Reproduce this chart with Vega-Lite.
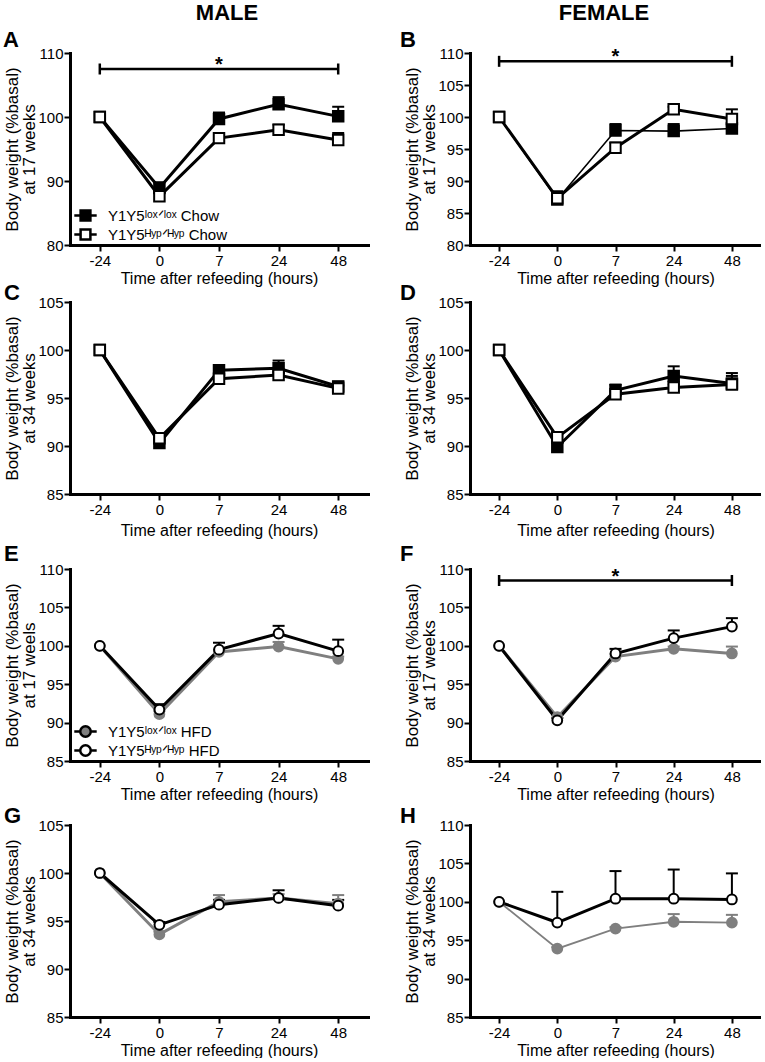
{
"$schema":"https://vega.github.io/schema/vega-lite/v6.json",
"padding":{"left":3,"top":2,"right":0,"bottom":0},
"config":{
 "font":"Liberation Sans",
 "view":{"stroke":null},
 "axis":{"domainColor":"black","domainWidth":3,"domainCap":"square","tickColor":"black","tickWidth":2,"tickSize":6,"labelColor":"black","labelFontSize":15,"labelPadding":2,"titleFontSize":16,"titleFontWeight":"normal","titleColor":"black","grid":false,"titlePadding":2,"titleLineHeight":17},
 "axisX":{"labelAngle":0},
 "axisY":{"labelPadding":1,"titlePadding":-1,"titleFontSize":17},
 "title":{"fontSize":22,"fontWeight":"bold","color":"black","anchor":"start","frame":"group"},
 "legend":{"labelColor":"black","labelFontSize":15}
},
"datasets":{
 "pts":[
  {"panel":"A","group":"lox","time":"-24","mean":100,"upper":null},
  {"panel":"A","group":"lox","time":"0","mean":88.9,"upper":89.8},
  {"panel":"A","group":"lox","time":"7","mean":99.7,"upper":100.7},
  {"panel":"A","group":"lox","time":"24","mean":102.0,"upper":103.1},
  {"panel":"A","group":"lox","time":"48","mean":100.1,"upper":101.6},
  {"panel":"A","group":"hyp","time":"-24","mean":100,"upper":null},
  {"panel":"A","group":"hyp","time":"0","mean":87.6,"upper":88.2},
  {"panel":"A","group":"hyp","time":"7","mean":96.7,"upper":97.1},
  {"panel":"A","group":"hyp","time":"24","mean":98.0,"upper":98.8},
  {"panel":"A","group":"hyp","time":"48","mean":96.4,"upper":97.5},
  {"panel":"B","group":"lox","time":"-24","mean":100,"upper":null},
  {"panel":"B","group":"lox","time":"0","mean":87.1,"upper":88.0},
  {"panel":"B","group":"lox","time":"7","mean":97.9,"upper":98.9},
  {"panel":"B","group":"lox","time":"24","mean":97.8,"upper":98.9},
  {"panel":"B","group":"lox","time":"48","mean":98.2,"upper":98.6},
  {"panel":"B","group":"hyp","time":"-24","mean":100,"upper":null},
  {"panel":"B","group":"hyp","time":"0","mean":87.3,"upper":88.4},
  {"panel":"B","group":"hyp","time":"7","mean":95.2,"upper":96.0},
  {"panel":"B","group":"hyp","time":"24","mean":101.2,"upper":101.6},
  {"panel":"B","group":"hyp","time":"48","mean":99.7,"upper":101.2},
  {"panel":"C","group":"lox","time":"-24","mean":100,"upper":null},
  {"panel":"C","group":"lox","time":"0","mean":90.3,"upper":90.6},
  {"panel":"C","group":"lox","time":"7","mean":97.9,"upper":98.4},
  {"panel":"C","group":"lox","time":"24","mean":98.1,"upper":98.9},
  {"panel":"C","group":"lox","time":"48","mean":96.2,"upper":96.7},
  {"panel":"C","group":"hyp","time":"-24","mean":100,"upper":null},
  {"panel":"C","group":"hyp","time":"0","mean":90.8,"upper":91.0},
  {"panel":"C","group":"hyp","time":"7","mean":97.0,"upper":97.4},
  {"panel":"C","group":"hyp","time":"24","mean":97.4,"upper":97.7},
  {"panel":"C","group":"hyp","time":"48","mean":96.0,"upper":96.3},
  {"panel":"D","group":"lox","time":"-24","mean":100,"upper":null},
  {"panel":"D","group":"lox","time":"0","mean":89.9,"upper":90.3},
  {"panel":"D","group":"lox","time":"7","mean":95.8,"upper":96.4},
  {"panel":"D","group":"lox","time":"24","mean":97.3,"upper":98.3},
  {"panel":"D","group":"lox","time":"48","mean":96.5,"upper":97.6},
  {"panel":"D","group":"hyp","time":"-24","mean":100,"upper":null},
  {"panel":"D","group":"hyp","time":"0","mean":90.9,"upper":91.4},
  {"panel":"D","group":"hyp","time":"7","mean":95.4,"upper":95.7},
  {"panel":"D","group":"hyp","time":"24","mean":96.1,"upper":96.4},
  {"panel":"D","group":"hyp","time":"48","mean":96.4,"upper":97.3},
  {"panel":"E","group":"lox","time":"-24","mean":100,"upper":null},
  {"panel":"E","group":"lox","time":"0","mean":91.1,"upper":91.5},
  {"panel":"E","group":"lox","time":"7","mean":99.2,"upper":99.5},
  {"panel":"E","group":"lox","time":"24","mean":99.9,"upper":100.5},
  {"panel":"E","group":"lox","time":"48","mean":98.3,"upper":98.6},
  {"panel":"E","group":"hyp","time":"-24","mean":100,"upper":null},
  {"panel":"E","group":"hyp","time":"0","mean":91.7,"upper":92.4},
  {"panel":"E","group":"hyp","time":"7","mean":99.5,"upper":100.4},
  {"panel":"E","group":"hyp","time":"24","mean":101.6,"upper":102.6},
  {"panel":"E","group":"hyp","time":"48","mean":99.3,"upper":100.8},
  {"panel":"F","group":"lox","time":"-24","mean":100,"upper":null},
  {"panel":"F","group":"lox","time":"0","mean":90.7,"upper":91.0},
  {"panel":"F","group":"lox","time":"7","mean":98.6,"upper":98.9},
  {"panel":"F","group":"lox","time":"24","mean":99.6,"upper":99.9},
  {"panel":"F","group":"lox","time":"48","mean":99.0,"upper":99.9},
  {"panel":"F","group":"hyp","time":"-24","mean":100,"upper":null},
  {"panel":"F","group":"hyp","time":"0","mean":90.3,"upper":90.6},
  {"panel":"F","group":"hyp","time":"7","mean":99.0,"upper":99.6},
  {"panel":"F","group":"hyp","time":"24","mean":101.0,"upper":102.0},
  {"panel":"F","group":"hyp","time":"48","mean":102.5,"upper":103.6},
  {"panel":"G","group":"lox","time":"-24","mean":100,"upper":null},
  {"panel":"G","group":"lox","time":"0","mean":93.6,"upper":93.9},
  {"panel":"G","group":"lox","time":"7","mean":97.0,"upper":97.7},
  {"panel":"G","group":"lox","time":"24","mean":97.4,"upper":97.8},
  {"panel":"G","group":"lox","time":"48","mean":96.8,"upper":97.7},
  {"panel":"G","group":"hyp","time":"-24","mean":100,"upper":null},
  {"panel":"G","group":"hyp","time":"0","mean":94.6,"upper":94.9},
  {"panel":"G","group":"hyp","time":"7","mean":96.7,"upper":97.2},
  {"panel":"G","group":"hyp","time":"24","mean":97.4,"upper":98.2},
  {"panel":"G","group":"hyp","time":"48","mean":96.6,"upper":97.2},
  {"panel":"H","group":"lox","time":"-24","mean":100,"upper":null},
  {"panel":"H","group":"lox","time":"0","mean":93.9,"upper":94.1},
  {"panel":"H","group":"lox","time":"7","mean":96.5,"upper":96.7},
  {"panel":"H","group":"lox","time":"24","mean":97.4,"upper":98.4},
  {"panel":"H","group":"lox","time":"48","mean":97.3,"upper":98.3},
  {"panel":"H","group":"hyp","time":"-24","mean":100,"upper":null},
  {"panel":"H","group":"hyp","time":"0","mean":97.3,"upper":101.3},
  {"panel":"H","group":"hyp","time":"7","mean":100.4,"upper":104.0},
  {"panel":"H","group":"hyp","time":"24","mean":100.4,"upper":104.2},
  {"panel":"H","group":"hyp","time":"48","mean":100.3,"upper":103.7}
 ],
 "sig":[
  {"panel":"A","from":"-24","to":"48","mid":"7","y":107.5,"star":"*"},
  {"panel":"B","from":"-24","to":"48","mid":"7","y":108.7,"star":"*"},
  {"panel":"F","from":"-24","to":"48","mid":"7","y":108.5,"star":"*"}
 ]
},
"resolve":{"scale":{"fill":"independent"},"legend":{"fill":"independent"}},
"spacing":5,
"vconcat":[
 {"hconcat":[
   {"width":314,"height":22,"data":{"values":[{"h":"MALE"}]},"mark":{"type":"text","fontSize":22,"fontWeight":"bold","color":"black"},"encoding":{"text":{"field":"h"}}},
   {"width":200,"height":22,"data":{"values":[{"h":"FEMALE"}]},"mark":{"type":"text","fontSize":22,"fontWeight":"bold","color":"black"},"encoding":{"text":{"field":"h"}}}
 ],"spacing":120},
 {"concat":[
  {"width":298,"height":192,"title":{"text":"A","dx":-67,"offset":-6},
   "data":{"name":"pts"},"transform":[{"filter":"datum.panel === 'A'"}],
   "encoding":{
    "x":{"field":"time","type":"ordinal","scale":{"type":"point","domain":["-24","0","7","24","48"],"padding":0.5},"axis":{"title":"Time after refeeding (hours)"}},
    "y":{"field":"mean","type":"quantitative","scale":{"domain":[80,110],"nice":false,"zero":false},"axis":{"values":[80,90,100,110],"title":["Body weight (%basal)","at 17 weeks"]}}
   },
   "layer":[
    {"transform":[{"filter":"datum.upper != null"}],"mark":{"type":"rule","strokeWidth":2,"color":"black"},"encoding":{"y2":{"field":"upper"}}},
    {"transform":[{"filter":"datum.upper != null"}],"mark":{"type":"tick","thickness":2,"size":12,"opacity":1,"color":"black"},"encoding":{"y":{"field":"upper","type":"quantitative"}}},
    {"mark":{"type":"line","strokeWidth":3,"color":"black"},"encoding":{"detail":{"field":"group"}}},
    {"mark":{"type":"point","shape":"square","filled":true,"size":110,"strokeWidth":2,"opacity":1,"stroke":"black"},"encoding":{
      "fill":{"field":"group","type":"nominal","scale":{"domain":["lox","hyp"],"range":["black","white"]},"legend":{"orient":"none","legendX":7,"legendY":154,"padding":0,"title":null,"symbolType":"M-1.6,0H-0.7M0.7,0H1.6M-0.7,-0.7H0.7V0.7H-0.7Z","symbolSize":196,"symbolStrokeWidth":2.5,"symbolStrokeColor":"black","labelOffset":14,"rowPadding":-4,"labelExpr":"datum.label === 'lox' ? 'Y1Y5ˡᵒˣᐟˡᵒˣ Chow' : 'Y1Y5ᴴʸᵖᐟᴴʸᵖ Chow'","encode":{"symbols":{"update":{"stroke":{"value":"black"},"strokeWidth":{"value":2.5}}}}}}}},
    {"data":{"name":"sig"},"transform":[{"filter":"datum.panel === 'A'"}],"mark":{"type":"rule","strokeWidth":2.5,"color":"black"},"encoding":{"x":{"field":"from","type":"ordinal"},"x2":{"field":"to"},"y":{"field":"y","type":"quantitative"}}},
    {"data":{"name":"sig"},"transform":[{"filter":"datum.panel === 'A'"}],"mark":{"type":"tick","orient":"vertical","size":11,"thickness":2.5,"color":"black","opacity":1},"encoding":{"x":{"field":"from","type":"ordinal"},"y":{"field":"y","type":"quantitative"}}},
    {"data":{"name":"sig"},"transform":[{"filter":"datum.panel === 'A'"}],"mark":{"type":"tick","orient":"vertical","size":11,"thickness":2.5,"color":"black","opacity":1},"encoding":{"x":{"field":"to","type":"ordinal"},"y":{"field":"y","type":"quantitative"}}},
    {"data":{"name":"sig"},"transform":[{"filter":"datum.panel === 'A'"}],"mark":{"type":"text","fontSize":20,"fontWeight":"bold","baseline":"alphabetic","dy":2,"color":"black"},"encoding":{"x":{"field":"mid","type":"ordinal"},"y":{"field":"y","type":"quantitative"},"text":{"field":"star"}}}
   ]},
  {"width":291,"height":192,"title":{"text":"B","dx":-70,"offset":-6},
   "data":{"name":"pts"},"transform":[{"filter":"datum.panel === 'B'"}],
   "encoding":{
    "x":{"field":"time","type":"ordinal","scale":{"type":"point","domain":["-24","0","7","24","48"],"padding":0.5},"axis":{"title":"Time after refeeding (hours)"}},
    "y":{"field":"mean","type":"quantitative","scale":{"domain":[80,110],"nice":false,"zero":false},"axis":{"values":[80,85,90,95,100,105,110],"title":["Body weight (%basal)","at 17 weeks"]}}
   },
   "layer":[
    {"transform":[{"filter":"datum.upper != null"}],"mark":{"type":"rule","strokeWidth":2,"color":"black"},"encoding":{"y2":{"field":"upper"}}},
    {"transform":[{"filter":"datum.upper != null"}],"mark":{"type":"tick","thickness":2,"size":12,"opacity":1,"color":"black"},"encoding":{"y":{"field":"upper","type":"quantitative"}}},
    {"mark":{"type":"line","color":"black"},"encoding":{"detail":{"field":"group"},"strokeWidth":{"condition":{"test":"datum.group === 'lox'","value":1.6},"value":3}}},
    {"mark":{"type":"point","shape":"square","filled":true,"size":110,"strokeWidth":2,"opacity":1,"stroke":"black"},"encoding":{
      "fill":{"field":"group","type":"nominal","scale":{"domain":["lox","hyp"],"range":["black","white"]},"legend":null}}},
    {"data":{"name":"sig"},"transform":[{"filter":"datum.panel === 'B'"}],"mark":{"type":"rule","strokeWidth":2.5,"color":"black"},"encoding":{"x":{"field":"from","type":"ordinal"},"x2":{"field":"to"},"y":{"field":"y","type":"quantitative"}}},
    {"data":{"name":"sig"},"transform":[{"filter":"datum.panel === 'B'"}],"mark":{"type":"tick","orient":"vertical","size":11,"thickness":2.5,"color":"black","opacity":1},"encoding":{"x":{"field":"from","type":"ordinal"},"y":{"field":"y","type":"quantitative"}}},
    {"data":{"name":"sig"},"transform":[{"filter":"datum.panel === 'B'"}],"mark":{"type":"tick","orient":"vertical","size":11,"thickness":2.5,"color":"black","opacity":1},"encoding":{"x":{"field":"to","type":"ordinal"},"y":{"field":"y","type":"quantitative"}}},
    {"data":{"name":"sig"},"transform":[{"filter":"datum.panel === 'B'"}],"mark":{"type":"text","fontSize":20,"fontWeight":"bold","baseline":"alphabetic","dy":2,"color":"black"},"encoding":{"x":{"field":"mid","type":"ordinal"},"y":{"field":"y","type":"quantitative"},"text":{"field":"star"}}}
   ]},
  {"width":298,"height":192,"title":{"text":"C","dx":-66,"offset":-10},
   "data":{"name":"pts"},"transform":[{"filter":"datum.panel === 'C'"}],
   "encoding":{
    "x":{"field":"time","type":"ordinal","scale":{"type":"point","domain":["-24","0","7","24","48"],"padding":0.5},"axis":{"title":"Time after refeeding (hours)","titlePadding":5}},
    "y":{"field":"mean","type":"quantitative","scale":{"domain":[85,105],"nice":false,"zero":false},"axis":{"values":[85,90,95,100,105],"title":["Body weight (%basal)","at 34 weeks"]}}
   },
   "layer":[
    {"transform":[{"filter":"datum.upper != null"}],"mark":{"type":"rule","strokeWidth":2,"color":"black"},"encoding":{"y2":{"field":"upper"}}},
    {"transform":[{"filter":"datum.upper != null"}],"mark":{"type":"tick","thickness":2,"size":12,"opacity":1,"color":"black"},"encoding":{"y":{"field":"upper","type":"quantitative"}}},
    {"mark":{"type":"line","strokeWidth":3,"color":"black"},"encoding":{"detail":{"field":"group"}}},
    {"mark":{"type":"point","shape":"square","filled":true,"size":110,"strokeWidth":2,"opacity":1,"stroke":"black"},"encoding":{
      "fill":{"field":"group","type":"nominal","scale":{"domain":["lox","hyp"],"range":["black","white"]},"legend":null}}}
   ]},
  {"width":291,"height":192,"title":{"text":"D","dx":-70,"offset":-10},
   "data":{"name":"pts"},"transform":[{"filter":"datum.panel === 'D'"}],
   "encoding":{
    "x":{"field":"time","type":"ordinal","scale":{"type":"point","domain":["-24","0","7","24","48"],"padding":0.5},"axis":{"title":"Time after refeeding (hours)","titlePadding":5}},
    "y":{"field":"mean","type":"quantitative","scale":{"domain":[85,105],"nice":false,"zero":false},"axis":{"values":[85,90,95,100,105],"title":["Body weight (%basal)","at 34 weeks"]}}
   },
   "layer":[
    {"transform":[{"filter":"datum.upper != null"}],"mark":{"type":"rule","strokeWidth":2,"color":"black"},"encoding":{"y2":{"field":"upper"}}},
    {"transform":[{"filter":"datum.upper != null"}],"mark":{"type":"tick","thickness":2,"size":12,"opacity":1,"color":"black"},"encoding":{"y":{"field":"upper","type":"quantitative"}}},
    {"mark":{"type":"line","strokeWidth":3,"color":"black"},"encoding":{"detail":{"field":"group"}}},
    {"mark":{"type":"point","shape":"square","filled":true,"size":110,"strokeWidth":2,"opacity":1,"stroke":"black"},"encoding":{
      "fill":{"field":"group","type":"nominal","scale":{"domain":["lox","hyp"],"range":["black","white"]},"legend":null}}}
   ]}
 ],"columns":2,"bounds":"flush","spacing":{"row":57,"column":102},
 "resolve":{"scale":{"fill":"independent"},"legend":{"fill":"independent"}}},
 {"concat":[
  {"width":298,"height":192,"title":{"text":"E","dx":-66,"offset":-4},
   "data":{"name":"pts"},"transform":[{"filter":"datum.panel === 'E'"}],
   "encoding":{
    "x":{"field":"time","type":"ordinal","scale":{"type":"point","domain":["-24","0","7","24","48"],"padding":0.5},"axis":{"title":"Time after refeeding (hours)"}},
    "y":{"field":"mean","type":"quantitative","scale":{"domain":[85,110],"nice":false,"zero":false},"axis":{"values":[85,90,95,100,105,110],"title":["Body weight (%basal)","at 17 weels"]}}
   },
   "layer":[
    {"transform":[{"filter":"datum.upper != null"}],"mark":{"type":"rule","strokeWidth":2},"encoding":{"y2":{"field":"upper"},"color":{"condition":{"test":"datum.group === 'lox'","value":"#7f7f7f"},"value":"black"}}},
    {"transform":[{"filter":"datum.upper != null"}],"mark":{"type":"tick","thickness":2,"size":12,"opacity":1},"encoding":{"y":{"field":"upper","type":"quantitative"},"color":{"condition":{"test":"datum.group === 'lox'","value":"#7f7f7f"},"value":"black"}}},
    {"mark":{"type":"line","strokeWidth":3},"encoding":{"detail":{"field":"group"},"color":{"condition":{"test":"datum.group === 'lox'","value":"#7f7f7f"},"value":"black"}}},
    {"mark":{"type":"point","shape":"circle","filled":true,"size":95,"strokeWidth":2,"opacity":1},"encoding":{
      "stroke":{"condition":{"test":"datum.group === 'lox'","value":"#7f7f7f"},"value":"black"},
      "fill":{"field":"group","type":"nominal","scale":{"domain":["lox","hyp"],"range":["#7f7f7f","white"]},"legend":{"orient":"none","legendX":7,"legendY":154,"padding":0,"title":null,"symbolType":"M-1.6,0H-0.75M0.75,0H1.6M-0.75,0A0.75,0.75,0,1,1,0.75,0A0.75,0.75,0,1,1,-0.75,0Z","symbolSize":196,"symbolStrokeWidth":2.5,"labelOffset":14,"rowPadding":-4,"labelExpr":"datum.label === 'lox' ? 'Y1Y5ˡᵒˣᐟˡᵒˣ HFD' : 'Y1Y5ᴴʸᵖᐟᴴʸᵖ HFD'","encode":{"symbols":{"update":{"stroke":{"signal":"datum.value === 'lox' ? '#7f7f7f' : 'black'"},"strokeWidth":{"value":2.5}}}}}}}}
   ]},
  {"width":291,"height":192,"title":{"text":"F","dx":-70,"offset":-4},
   "data":{"name":"pts"},"transform":[{"filter":"datum.panel === 'F'"}],
   "encoding":{
    "x":{"field":"time","type":"ordinal","scale":{"type":"point","domain":["-24","0","7","24","48"],"padding":0.5},"axis":{"title":"Time after refeeding (hours)"}},
    "y":{"field":"mean","type":"quantitative","scale":{"domain":[85,110],"nice":false,"zero":false},"axis":{"values":[85,90,95,100,105,110],"title":["Body weight (%basal)","at 17 weeks"]}}
   },
   "layer":[
    {"transform":[{"filter":"datum.upper != null"}],"mark":{"type":"rule","strokeWidth":2},"encoding":{"y2":{"field":"upper"},"color":{"condition":{"test":"datum.group === 'lox'","value":"#7f7f7f"},"value":"black"}}},
    {"transform":[{"filter":"datum.upper != null"}],"mark":{"type":"tick","thickness":2,"size":12,"opacity":1},"encoding":{"y":{"field":"upper","type":"quantitative"},"color":{"condition":{"test":"datum.group === 'lox'","value":"#7f7f7f"},"value":"black"}}},
    {"mark":{"type":"line","strokeWidth":3},"encoding":{"detail":{"field":"group"},"color":{"condition":{"test":"datum.group === 'lox'","value":"#7f7f7f"},"value":"black"}}},
    {"mark":{"type":"point","shape":"circle","filled":true,"size":95,"strokeWidth":2,"opacity":1},"encoding":{
      "stroke":{"condition":{"test":"datum.group === 'lox'","value":"#7f7f7f"},"value":"black"},
      "fill":{"field":"group","type":"nominal","scale":{"domain":["lox","hyp"],"range":["#7f7f7f","white"]},"legend":null}}},
    {"data":{"name":"sig"},"transform":[{"filter":"datum.panel === 'F'"}],"mark":{"type":"rule","strokeWidth":2.5,"color":"black"},"encoding":{"x":{"field":"from","type":"ordinal"},"x2":{"field":"to"},"y":{"field":"y","type":"quantitative"}}},
    {"data":{"name":"sig"},"transform":[{"filter":"datum.panel === 'F'"}],"mark":{"type":"tick","orient":"vertical","size":11,"thickness":2.5,"color":"black","opacity":1},"encoding":{"x":{"field":"from","type":"ordinal"},"y":{"field":"y","type":"quantitative"}}},
    {"data":{"name":"sig"},"transform":[{"filter":"datum.panel === 'F'"}],"mark":{"type":"tick","orient":"vertical","size":11,"thickness":2.5,"color":"black","opacity":1},"encoding":{"x":{"field":"to","type":"ordinal"},"y":{"field":"y","type":"quantitative"}}},
    {"data":{"name":"sig"},"transform":[{"filter":"datum.panel === 'F'"}],"mark":{"type":"text","fontSize":20,"fontWeight":"bold","baseline":"alphabetic","dy":2,"color":"black"},"encoding":{"x":{"field":"mid","type":"ordinal"},"y":{"field":"y","type":"quantitative"},"text":{"field":"star"}}}
   ]},
  {"width":298,"height":192,"title":{"text":"G","dx":-66,"offset":-10},
   "data":{"name":"pts"},"transform":[{"filter":"datum.panel === 'G'"}],
   "encoding":{
    "x":{"field":"time","type":"ordinal","scale":{"type":"point","domain":["-24","0","7","24","48"],"padding":0.5},"axis":{"title":"Time after refeeding (hours)"}},
    "y":{"field":"mean","type":"quantitative","scale":{"domain":[85,105],"nice":false,"zero":false},"axis":{"values":[85,90,95,100,105],"title":["Body weight (%basal)","at 34 weeks"]}}
   },
   "layer":[
    {"transform":[{"filter":"datum.upper != null"}],"mark":{"type":"rule","strokeWidth":2},"encoding":{"y2":{"field":"upper"},"color":{"condition":{"test":"datum.group === 'lox'","value":"#7f7f7f"},"value":"black"}}},
    {"transform":[{"filter":"datum.upper != null"}],"mark":{"type":"tick","thickness":2,"size":12,"opacity":1},"encoding":{"y":{"field":"upper","type":"quantitative"},"color":{"condition":{"test":"datum.group === 'lox'","value":"#7f7f7f"},"value":"black"}}},
    {"mark":{"type":"line","strokeWidth":3},"encoding":{"detail":{"field":"group"},"color":{"condition":{"test":"datum.group === 'lox'","value":"#7f7f7f"},"value":"black"}}},
    {"mark":{"type":"point","shape":"circle","filled":true,"size":95,"strokeWidth":2,"opacity":1},"encoding":{
      "stroke":{"condition":{"test":"datum.group === 'lox'","value":"#7f7f7f"},"value":"black"},
      "fill":{"field":"group","type":"nominal","scale":{"domain":["lox","hyp"],"range":["#7f7f7f","white"]},"legend":null}}}
   ]},
  {"width":291,"height":192,"title":{"text":"H","dx":-70,"offset":-10},
   "data":{"name":"pts"},"transform":[{"filter":"datum.panel === 'H'"}],
   "encoding":{
    "x":{"field":"time","type":"ordinal","scale":{"type":"point","domain":["-24","0","7","24","48"],"padding":0.5},"axis":{"title":"Time after refeeding (hours)"}},
    "y":{"field":"mean","type":"quantitative","scale":{"domain":[85,110],"nice":false,"zero":false},"axis":{"values":[85,90,95,100,105,110],"title":["Body weight (%basal)","at 34 weeks"]}}
   },
   "layer":[
    {"transform":[{"filter":"datum.upper != null"}],"mark":{"type":"rule","strokeWidth":2},"encoding":{"y2":{"field":"upper"},"color":{"condition":{"test":"datum.group === 'lox'","value":"#7f7f7f"},"value":"black"}}},
    {"transform":[{"filter":"datum.upper != null"}],"mark":{"type":"tick","thickness":2,"size":12,"opacity":1},"encoding":{"y":{"field":"upper","type":"quantitative"},"color":{"condition":{"test":"datum.group === 'lox'","value":"#7f7f7f"},"value":"black"}}},
    {"mark":{"type":"line"},"encoding":{"detail":{"field":"group"},"color":{"condition":{"test":"datum.group === 'lox'","value":"#7f7f7f"},"value":"black"},"strokeWidth":{"condition":{"test":"datum.group === 'lox'","value":1.8},"value":3}}},
    {"mark":{"type":"point","shape":"circle","filled":true,"size":95,"strokeWidth":2,"opacity":1},"encoding":{
      "stroke":{"condition":{"test":"datum.group === 'lox'","value":"#7f7f7f"},"value":"black"},
      "fill":{"field":"group","type":"nominal","scale":{"domain":["lox","hyp"],"range":["#7f7f7f","white"]},"legend":null}}}
   ]}
 ],"columns":2,"bounds":"flush","spacing":{"row":64,"column":102},
 "resolve":{"scale":{"fill":"independent"},"legend":{"fill":"independent"}}}
]
}
